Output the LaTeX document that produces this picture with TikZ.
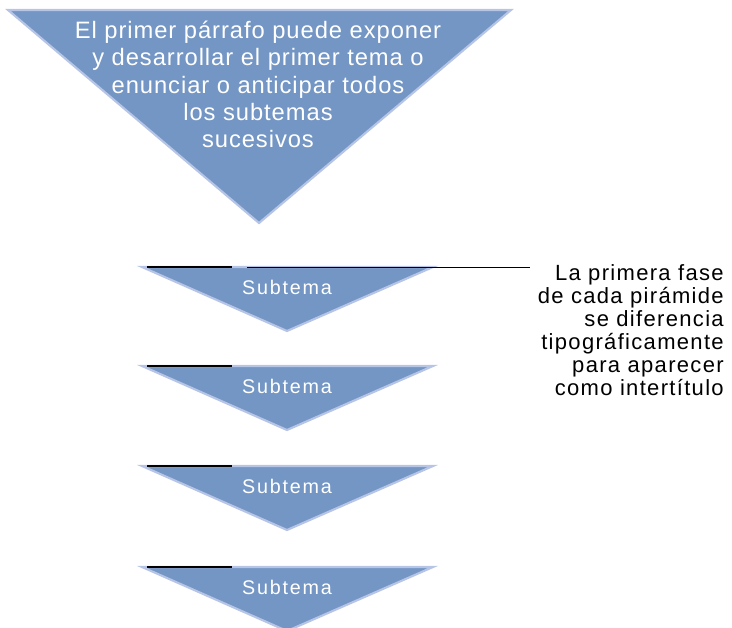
\documentclass[tikz,border=0pt]{standalone}
\usepackage{fontspec}
\setmainfont{Liberation Sans}
\newfontfamily\bigf[LetterSpace=4]{Liberation Sans}
\newfontfamily\subf[LetterSpace=9]{Liberation Sans}
\newfontfamily\notef[LetterSpace=6]{Liberation Sans}
\definecolor{tri}{RGB}{116,150,196}
\definecolor{triedge}{RGB}{182,196,230}
\begin{document}
\begin{tikzpicture}[x=0.75pt,y=-0.75pt,
  tribox/.style={fill=tri,draw=triedge,line width=1.6pt,line join=miter},
  bar/.style={draw=black,line width=1.6pt},
  subt/.style={text=white,font=\subf\fontsize{14.8}{16}\selectfont,inner sep=0pt,anchor=base},
  note/.style={align=right,font=\notef\fontsize{16.5}{17.3}\selectfont,inner sep=0pt,anchor=north east}]
\useasboundingbox (0,0) rectangle (732,628);
% big triangle
\draw[tribox] (8,10) -- (511,10) -- (259,223) -- cycle;
\node[text=white,align=center,inner sep=0pt,anchor=north,font=\bigf\fontsize{17.8}{20.4}\selectfont] (main) at (258,21)
 {El primer párrafo puede exponer\\y desarrollar el primer tema o\\enunciar o anticipar todos\\los subtemas\\sucesivos};
% subtopic triangles
\foreach \i/\y in {1/267,2/366,3/466,4/567}{
  \draw[tribox] (142,\y) -- (433,\y) -- (287,\y+64) -- cycle;
  \coordinate (bl\i) at (147,\y);
  \coordinate (br\i) at (232,\y);
  \draw[bar] (bl\i) -- (br\i);
  \node[subt] (s\i) at (287,\y+27) {Subtema};
}
\node[note] (note) at (724,264)
 {La primera fase\\de cada pirámide\\se diferencia\\tipográficamente\\para aparecer\\como intertítulo};
\coordinate (c1) at (247,267);
\coordinate (c2) at (530,267);
\draw[line width=0.6pt] (c1) -- (c2);
\end{tikzpicture}
\end{document}
